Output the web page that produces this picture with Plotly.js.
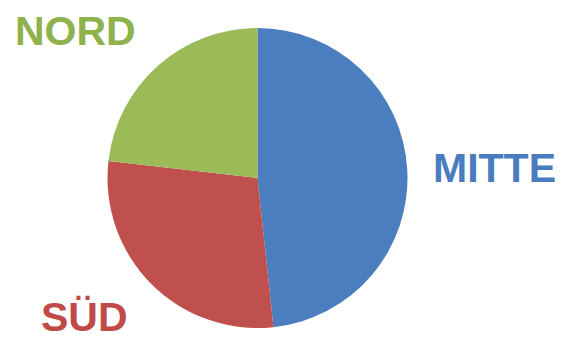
<!DOCTYPE html>
<html>
<head>
<meta charset="utf-8">
<script src="https://cdn.plot.ly/plotly-3.0.1.min.js"></script>
<style>html,body{margin:0;padding:0;background:#fff;}#chart{width:561px;height:340px;}</style>
</head>
<body>
<div id="chart"></div>
<script>
const regions = ["MITTE", "SÜD", "NORD"];
const shares = [48.3, 28.5, 23.2];
const colors = ["#4a7ebf", "#c0504d", "#9bbb59"];
const labelColors = ["#4a7cc0", "#c04a48", "#8fb24c"];

const W = 561, H = 340;
const labelPos = [[494, 168], [84, 317], [75, 31]];

const data = [{
  type: "pie",
  labels: regions,
  values: shares,
  sort: false,
  direction: "clockwise",
  rotation: 0,
  textinfo: "none",
  hoverinfo: "label+percent",
  marker: {colors: colors, line: {width: 0}},
  domain: {x: [107.5 / W, 407.5 / W], y: [12 / H, 312 / H]},
  showlegend: false
}];

const annotations = regions.map((r, i) => ({
  text: "<b>" + r + "</b>",
  x: labelPos[i][0] / W,
  y: 1 - labelPos[i][1] / H,
  xref: "paper", yref: "paper",
  xanchor: "center", yanchor: "middle",
  showarrow: false,
  font: {family: "Liberation Sans, Arial, sans-serif", size: 41, color: labelColors[i]}
}));

const layout = {
  width: W, height: H,
  margin: {l: 0, r: 0, t: 0, b: 0},
  paper_bgcolor: "#ffffff",
  annotations: annotations,
  showlegend: false
};

Plotly.newPlot("chart", data, layout, {displayModeBar: false, staticPlot: true});
</script>
</body>
</html>
